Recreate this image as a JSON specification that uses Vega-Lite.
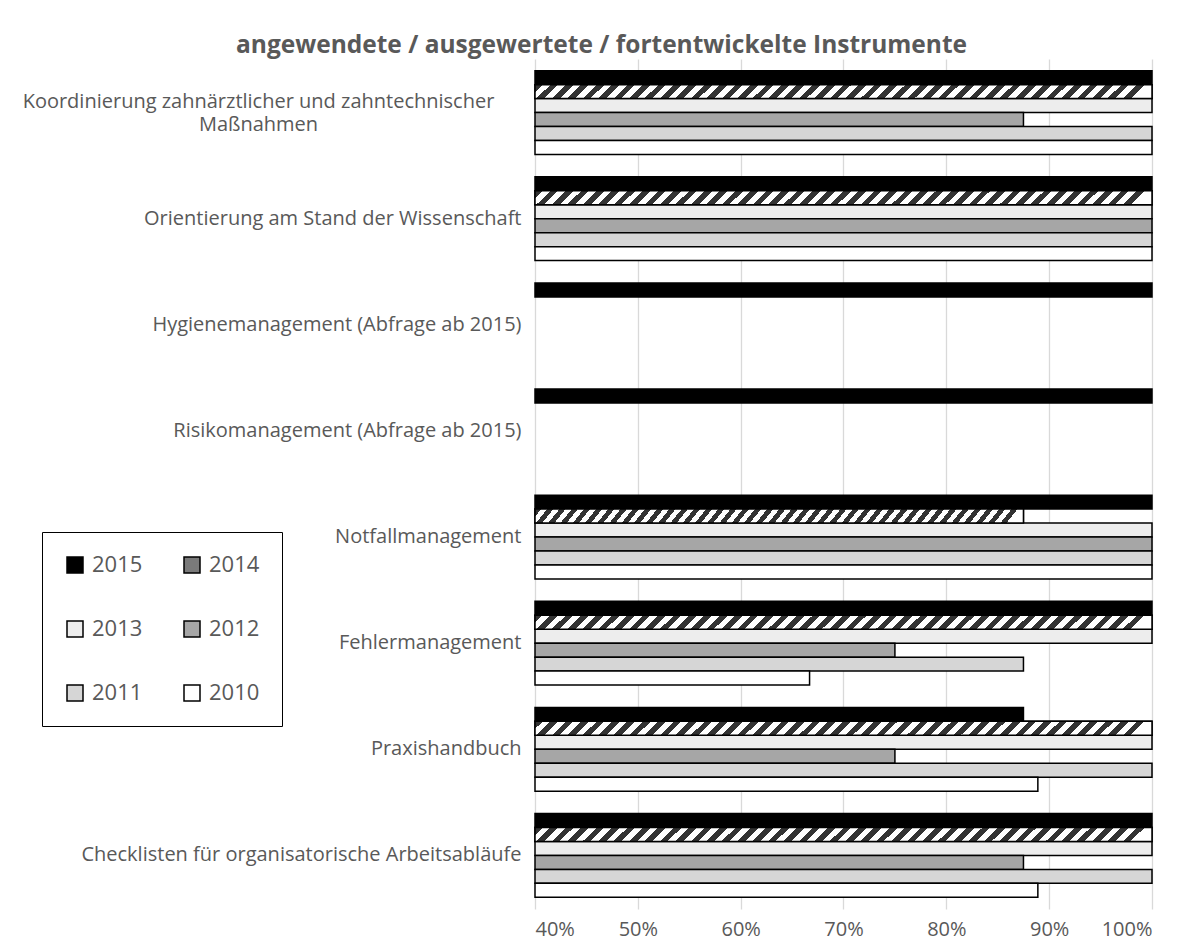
{
  "$schema": "https://vega.github.io/schema/vega-lite/v6.json",
  "width": 617,
  "height": 850,
  "autosize": "none",
  "padding": {"left": 535, "top": 59, "right": 51, "bottom": 41},
  "background": "white",
  "title": {
    "text": "angewendete / ausgewertete / fortentwickelte Instrumente",
    "font": "Open Sans",
    "fontSize": 24.5,
    "fontWeight": "bold",
    "color": "#595959",
    "anchor": "middle",
    "frame": "group",
    "dx": -242,
    "offset": 1
  },
  "data": {
    "values": [
      {"instrument": "Koordinierung zahnärztlicher und zahntechnischer Maßnahmen", "year": "2015", "value": 1},
      {"instrument": "Koordinierung zahnärztlicher und zahntechnischer Maßnahmen", "year": "2014", "value": 1},
      {"instrument": "Koordinierung zahnärztlicher und zahntechnischer Maßnahmen", "year": "2013", "value": 1},
      {"instrument": "Koordinierung zahnärztlicher und zahntechnischer Maßnahmen", "year": "2012", "value": 0.875},
      {"instrument": "Koordinierung zahnärztlicher und zahntechnischer Maßnahmen", "year": "2011", "value": 1},
      {"instrument": "Koordinierung zahnärztlicher und zahntechnischer Maßnahmen", "year": "2010", "value": 1},
      {"instrument": "Orientierung am Stand der Wissenschaft", "year": "2015", "value": 1},
      {"instrument": "Orientierung am Stand der Wissenschaft", "year": "2014", "value": 1},
      {"instrument": "Orientierung am Stand der Wissenschaft", "year": "2013", "value": 1},
      {"instrument": "Orientierung am Stand der Wissenschaft", "year": "2012", "value": 1},
      {"instrument": "Orientierung am Stand der Wissenschaft", "year": "2011", "value": 1},
      {"instrument": "Orientierung am Stand der Wissenschaft", "year": "2010", "value": 1},
      {"instrument": "Hygienemanagement (Abfrage ab 2015)", "year": "2015", "value": 1},
      {"instrument": "Risikomanagement (Abfrage ab 2015)", "year": "2015", "value": 1},
      {"instrument": "Notfallmanagement", "year": "2015", "value": 1},
      {"instrument": "Notfallmanagement", "year": "2014", "value": 0.875},
      {"instrument": "Notfallmanagement", "year": "2013", "value": 1},
      {"instrument": "Notfallmanagement", "year": "2012", "value": 1},
      {"instrument": "Notfallmanagement", "year": "2011", "value": 1},
      {"instrument": "Notfallmanagement", "year": "2010", "value": 1},
      {"instrument": "Fehlermanagement", "year": "2015", "value": 1},
      {"instrument": "Fehlermanagement", "year": "2014", "value": 1},
      {"instrument": "Fehlermanagement", "year": "2013", "value": 1},
      {"instrument": "Fehlermanagement", "year": "2012", "value": 0.75},
      {"instrument": "Fehlermanagement", "year": "2011", "value": 0.875},
      {"instrument": "Fehlermanagement", "year": "2010", "value": 0.667},
      {"instrument": "Praxishandbuch", "year": "2015", "value": 0.875},
      {"instrument": "Praxishandbuch", "year": "2014", "value": 1},
      {"instrument": "Praxishandbuch", "year": "2013", "value": 1},
      {"instrument": "Praxishandbuch", "year": "2012", "value": 0.75},
      {"instrument": "Praxishandbuch", "year": "2011", "value": 1},
      {"instrument": "Praxishandbuch", "year": "2010", "value": 0.889},
      {"instrument": "Checklisten für organisatorische Arbeitsabläufe", "year": "2015", "value": 1},
      {"instrument": "Checklisten für organisatorische Arbeitsabläufe", "year": "2014", "value": 1},
      {"instrument": "Checklisten für organisatorische Arbeitsabläufe", "year": "2013", "value": 1},
      {"instrument": "Checklisten für organisatorische Arbeitsabläufe", "year": "2012", "value": 0.875},
      {"instrument": "Checklisten für organisatorische Arbeitsabläufe", "year": "2011", "value": 1},
      {"instrument": "Checklisten für organisatorische Arbeitsabläufe", "year": "2010", "value": 0.889}
    ]
  },
  "encoding": {
    "y": {
      "field": "instrument",
      "type": "nominal",
      "sort": [
        "Koordinierung zahnärztlicher und zahntechnischer Maßnahmen",
        "Orientierung am Stand der Wissenschaft",
        "Hygienemanagement (Abfrage ab 2015)",
        "Risikomanagement (Abfrage ab 2015)",
        "Notfallmanagement",
        "Fehlermanagement",
        "Praxishandbuch",
        "Checklisten für organisatorische Arbeitsabläufe"
      ],
      "scale": {"paddingInner": 0.21, "paddingOuter": 0.11},
      "axis": {
        "title": null,
        "labelFont": "Open Sans",
        "labelFontSize": 20,
        "labelColor": "#595959",
        "labelLimit": 700,
        "labelLineHeight": 23,
        "ticks": false,
        "domain": false,
        "grid": false,
        "labelExpr": "datum.value == 'Koordinierung zahnärztlicher und zahntechnischer Maßnahmen' ? ['Koordinierung zahnärztlicher und zahntechnischer', 'Maßnahmen'] : datum.value",
        "labelAlign": {"condition": {"test": "datum.value == 'Koordinierung zahnärztlicher und zahntechnischer Maßnahmen'", "value": "center"}, "value": "right"},
        "labelPadding": {"condition": {"test": "datum.value == 'Koordinierung zahnärztlicher und zahntechnischer Maßnahmen'", "value": 277}, "value": 14},
        "labelOffset": {"condition": {"test": "datum.value == 'Koordinierung zahnärztlicher und zahntechnischer Maßnahmen'", "value": -11}, "value": 0}
      }
    },
    "yOffset": {
      "field": "year",
      "type": "nominal",
      "sort": ["2015", "2014", "2013", "2012", "2011", "2010"],
      "scale": {"paddingInner": 0, "paddingOuter": 0}
    },
    "x": {
      "field": "value",
      "type": "quantitative",
      "scale": {"domain": [0.4, 1], "zero": false, "nice": false},
      "axis": {
        "title": null,
        "format": ".0%",
        "values": [0.4, 0.5, 0.6, 0.7, 0.8, 0.9, 1],
        "labelFont": "Open Sans",
        "labelFontSize": 20,
        "labelColor": "#595959",
        "labelPadding": 10,
        "ticks": false,
        "domain": false,
        "grid": true,
        "gridColor": "#d9d9d9",
        "gridWidth": 1.3
      }
    },
    "x2": {"datum": 0.4}
  },
  "layer": [
    {
      "mark": {"type": "bar", "stroke": "black", "strokeWidth": 1.5},
      "encoding": {
        "fill": {
          "field": "year",
          "type": "nominal",
          "scale": {
            "domain": ["2015", "2013", "2011", "2014", "2012", "2010"],
            "range": ["#000000", "#ededed", "#d6d6d6", "#7a7a7a", "#a6a6a6", "#ffffff"]
          },
          "legend": {
            "title": null,
            "orient": "none",
            "legendX": -493,
            "legendY": 473,
            "columns": 2,
            "symbolType": "square",
            "symbolSize": 256,
            "symbolStrokeColor": "black",
            "symbolStrokeWidth": 1.5,
            "labelFont": "Open Sans",
            "labelFontSize": 22,
            "labelColor": "#595959",
            "labelOffset": 6,
            "columnPadding": 38,
            "rowPadding": 42,
            "padding": 22,
            "strokeColor": "black",
            "fillColor": "white"
          }
        }
      }
    },
    {
      "transform": [{"filter": "datum.year == '2014'"}],
      "mark": {
        "type": "bar",
        "stroke": "black",
        "strokeWidth": 1.5,
        "fill": {"gradient": "linear", "x1": 0, "y1": 0, "x2": 1, "y2": 0.023, "stops": [
            {"offset":0,"color":"#333"},{"offset":0.0125,"color":"#333"},{"offset":0.0125,"color":"#fff"},{"offset":0.025,"color":"#fff"},
            {"offset":0.025,"color":"#333"},{"offset":0.0375,"color":"#333"},{"offset":0.0375,"color":"#fff"},{"offset":0.05,"color":"#fff"},
            {"offset":0.05,"color":"#333"},{"offset":0.0625,"color":"#333"},{"offset":0.0625,"color":"#fff"},{"offset":0.075,"color":"#fff"},
            {"offset":0.075,"color":"#333"},{"offset":0.0875,"color":"#333"},{"offset":0.0875,"color":"#fff"},{"offset":0.1,"color":"#fff"},
            {"offset":0.1,"color":"#333"},{"offset":0.1125,"color":"#333"},{"offset":0.1125,"color":"#fff"},{"offset":0.125,"color":"#fff"},
            {"offset":0.125,"color":"#333"},{"offset":0.1375,"color":"#333"},{"offset":0.1375,"color":"#fff"},{"offset":0.15,"color":"#fff"},
            {"offset":0.15,"color":"#333"},{"offset":0.1625,"color":"#333"},{"offset":0.1625,"color":"#fff"},{"offset":0.175,"color":"#fff"},
            {"offset":0.175,"color":"#333"},{"offset":0.1875,"color":"#333"},{"offset":0.1875,"color":"#fff"},{"offset":0.2,"color":"#fff"},
            {"offset":0.2,"color":"#333"},{"offset":0.2125,"color":"#333"},{"offset":0.2125,"color":"#fff"},{"offset":0.225,"color":"#fff"},
            {"offset":0.225,"color":"#333"},{"offset":0.2375,"color":"#333"},{"offset":0.2375,"color":"#fff"},{"offset":0.25,"color":"#fff"},
            {"offset":0.25,"color":"#333"},{"offset":0.2625,"color":"#333"},{"offset":0.2625,"color":"#fff"},{"offset":0.275,"color":"#fff"},
            {"offset":0.275,"color":"#333"},{"offset":0.2875,"color":"#333"},{"offset":0.2875,"color":"#fff"},{"offset":0.3,"color":"#fff"},
            {"offset":0.3,"color":"#333"},{"offset":0.3125,"color":"#333"},{"offset":0.3125,"color":"#fff"},{"offset":0.325,"color":"#fff"},
            {"offset":0.325,"color":"#333"},{"offset":0.3375,"color":"#333"},{"offset":0.3375,"color":"#fff"},{"offset":0.35,"color":"#fff"},
            {"offset":0.35,"color":"#333"},{"offset":0.3625,"color":"#333"},{"offset":0.3625,"color":"#fff"},{"offset":0.375,"color":"#fff"},
            {"offset":0.375,"color":"#333"},{"offset":0.3875,"color":"#333"},{"offset":0.3875,"color":"#fff"},{"offset":0.4,"color":"#fff"},
            {"offset":0.4,"color":"#333"},{"offset":0.4125,"color":"#333"},{"offset":0.4125,"color":"#fff"},{"offset":0.425,"color":"#fff"},
            {"offset":0.425,"color":"#333"},{"offset":0.4375,"color":"#333"},{"offset":0.4375,"color":"#fff"},{"offset":0.45,"color":"#fff"},
            {"offset":0.45,"color":"#333"},{"offset":0.4625,"color":"#333"},{"offset":0.4625,"color":"#fff"},{"offset":0.475,"color":"#fff"},
            {"offset":0.475,"color":"#333"},{"offset":0.4875,"color":"#333"},{"offset":0.4875,"color":"#fff"},{"offset":0.5,"color":"#fff"},
            {"offset":0.5,"color":"#333"},{"offset":0.5125,"color":"#333"},{"offset":0.5125,"color":"#fff"},{"offset":0.525,"color":"#fff"},
            {"offset":0.525,"color":"#333"},{"offset":0.5375,"color":"#333"},{"offset":0.5375,"color":"#fff"},{"offset":0.55,"color":"#fff"},
            {"offset":0.55,"color":"#333"},{"offset":0.5625,"color":"#333"},{"offset":0.5625,"color":"#fff"},{"offset":0.575,"color":"#fff"},
            {"offset":0.575,"color":"#333"},{"offset":0.5875,"color":"#333"},{"offset":0.5875,"color":"#fff"},{"offset":0.6,"color":"#fff"},
            {"offset":0.6,"color":"#333"},{"offset":0.6125,"color":"#333"},{"offset":0.6125,"color":"#fff"},{"offset":0.625,"color":"#fff"},
            {"offset":0.625,"color":"#333"},{"offset":0.6375,"color":"#333"},{"offset":0.6375,"color":"#fff"},{"offset":0.65,"color":"#fff"},
            {"offset":0.65,"color":"#333"},{"offset":0.6625,"color":"#333"},{"offset":0.6625,"color":"#fff"},{"offset":0.675,"color":"#fff"},
            {"offset":0.675,"color":"#333"},{"offset":0.6875,"color":"#333"},{"offset":0.6875,"color":"#fff"},{"offset":0.7,"color":"#fff"},
            {"offset":0.7,"color":"#333"},{"offset":0.7125,"color":"#333"},{"offset":0.7125,"color":"#fff"},{"offset":0.725,"color":"#fff"},
            {"offset":0.725,"color":"#333"},{"offset":0.7375,"color":"#333"},{"offset":0.7375,"color":"#fff"},{"offset":0.75,"color":"#fff"},
            {"offset":0.75,"color":"#333"},{"offset":0.7625,"color":"#333"},{"offset":0.7625,"color":"#fff"},{"offset":0.775,"color":"#fff"},
            {"offset":0.775,"color":"#333"},{"offset":0.7875,"color":"#333"},{"offset":0.7875,"color":"#fff"},{"offset":0.8,"color":"#fff"},
            {"offset":0.8,"color":"#333"},{"offset":0.8125,"color":"#333"},{"offset":0.8125,"color":"#fff"},{"offset":0.825,"color":"#fff"},
            {"offset":0.825,"color":"#333"},{"offset":0.8375,"color":"#333"},{"offset":0.8375,"color":"#fff"},{"offset":0.85,"color":"#fff"},
            {"offset":0.85,"color":"#333"},{"offset":0.8625,"color":"#333"},{"offset":0.8625,"color":"#fff"},{"offset":0.875,"color":"#fff"},
            {"offset":0.875,"color":"#333"},{"offset":0.8875,"color":"#333"},{"offset":0.8875,"color":"#fff"},{"offset":0.9,"color":"#fff"},
            {"offset":0.9,"color":"#333"},{"offset":0.9125,"color":"#333"},{"offset":0.9125,"color":"#fff"},{"offset":0.925,"color":"#fff"},
            {"offset":0.925,"color":"#333"},{"offset":0.9375,"color":"#333"},{"offset":0.9375,"color":"#fff"},{"offset":0.95,"color":"#fff"},
            {"offset":0.95,"color":"#333"},{"offset":0.9625,"color":"#333"},{"offset":0.9625,"color":"#fff"},{"offset":0.975,"color":"#fff"},
            {"offset":0.975,"color":"#333"},{"offset":0.9875,"color":"#333"},{"offset":0.9875,"color":"#fff"},{"offset":1,"color":"#fff"}
        ]}
      }
    }
  ],
  "config": {
    "font": "Open Sans",
    "view": {"stroke": null}
  }
}
